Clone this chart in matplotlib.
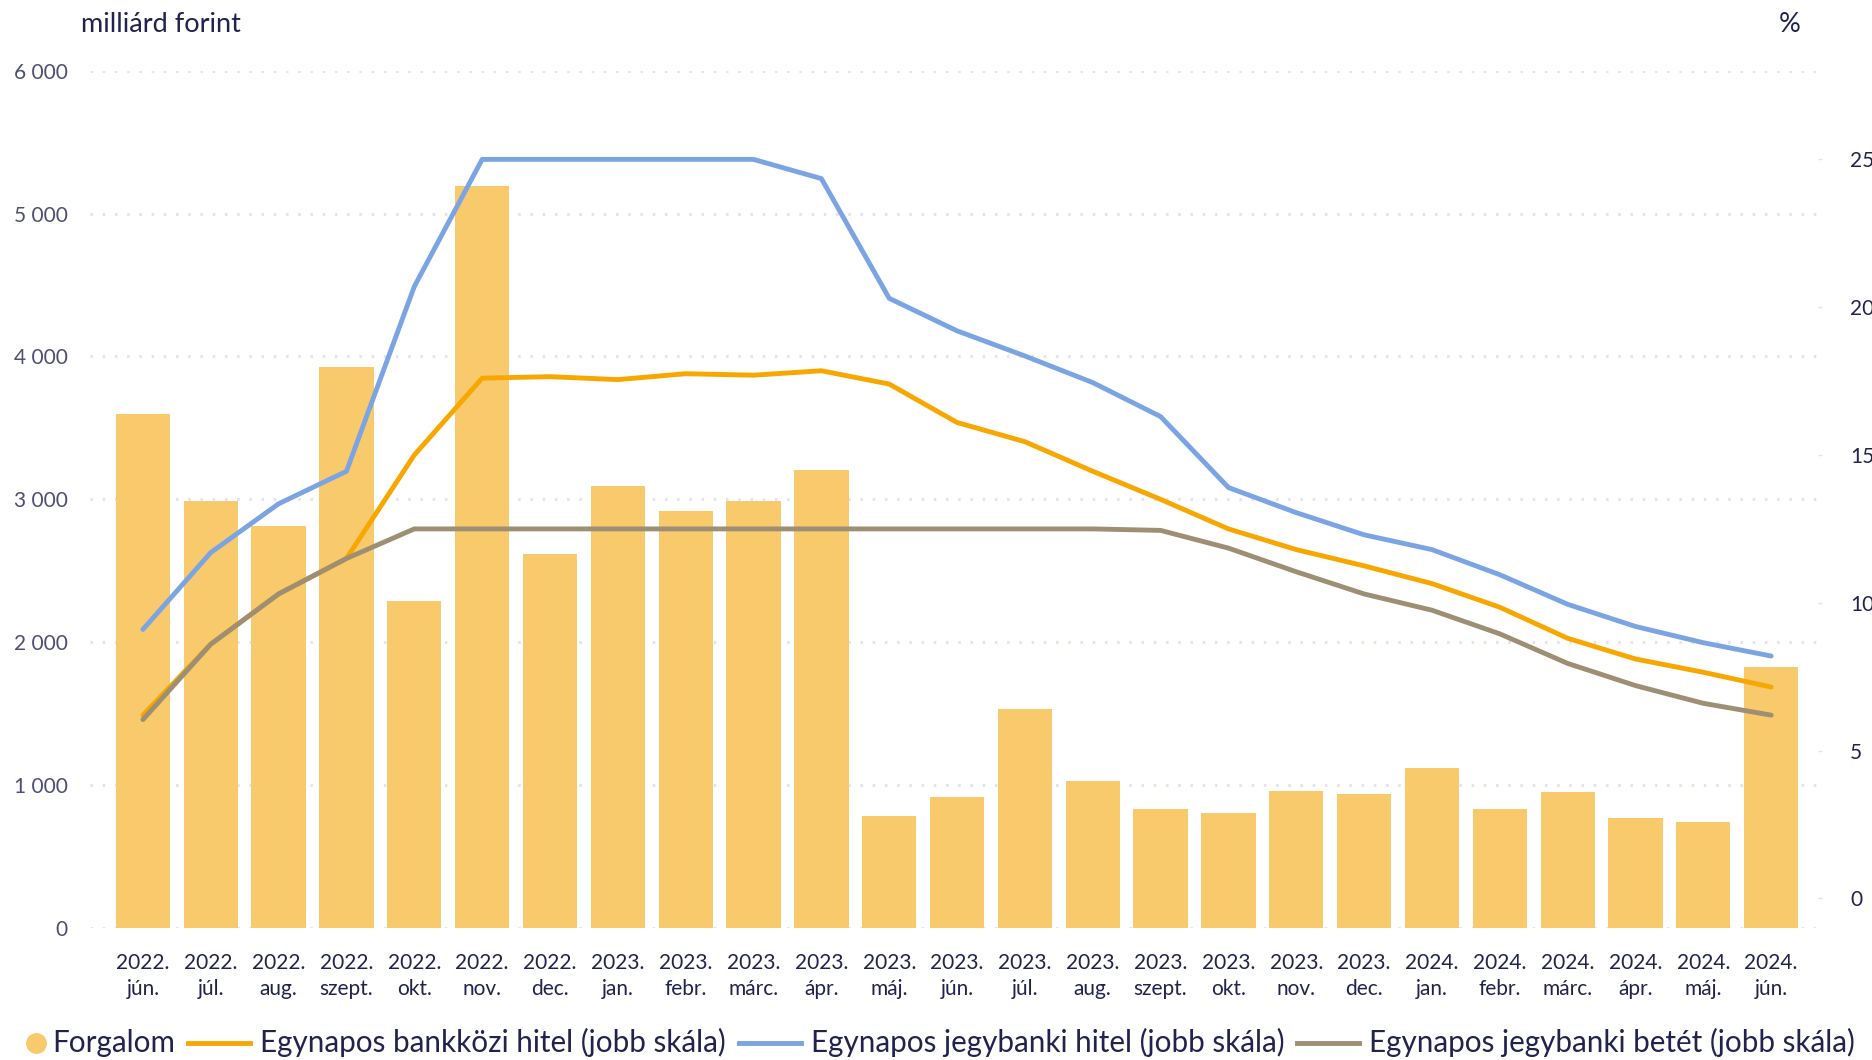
import matplotlib
matplotlib.use("Agg")
import matplotlib.pyplot as plt
from matplotlib.lines import Line2D
import numpy as np

plt.rcParams['font.family'] = ['Lato', 'DejaVu Sans']

years = ["2022.", "2022.", "2022.", "2022.", "2022.", "2022.", "2022.",
         "2023.", "2023.", "2023.", "2023.", "2023.", "2023.", "2023.", "2023.",
         "2023.", "2023.", "2023.", "2023.",
         "2024.", "2024.", "2024.", "2024.", "2024.", "2024."]
months = ["jún.", "júl.", "aug.", "szept.", "okt.", "nov.", "dec.",
          "jan.", "febr.", "márc.", "ápr.", "máj.", "jún.", "júl.", "aug.",
          "szept.", "okt.", "nov.", "dec.",
          "jan.", "febr.", "márc.", "ápr.", "máj.", "jún."]

forgalom = [3600, 2990, 2810, 3925, 2290, 5190, 2620, 3090, 2920, 2990, 3205,
            787, 920, 1530, 1030, 830, 805, 960, 935, 1120, 830, 955, 770, 745, 1830]

bankkozi_hitel = [6.2, 8.6, 10.3, 11.5, 15.0, 17.6, 17.65, 17.55, 17.75, 17.7, 17.85,
                  17.4, 16.1, 15.45, 14.45, 13.5, 12.5, 11.8, 11.25, 10.65, 9.85,
                  8.8, 8.1, 7.65, 7.15]
jegybanki_hitel = [9.1, 11.7, 13.35, 14.45, 20.7, 25.0, 25.0, 25.0, 25.0, 25.0, 24.35,
                   20.3, 19.2, 18.35, 17.45, 16.3, 13.9, 13.05, 12.3, 11.8, 10.95,
                   9.95, 9.2, 8.65, 8.2]
jegybanki_betet = [6.05, 8.6, 10.3, 11.5, 12.5, 12.5, 12.5, 12.5, 12.5, 12.5, 12.5,
                   12.5, 12.5, 12.5, 12.5, 12.45, 11.85, 11.05, 10.3, 9.75, 8.95,
                   7.95, 7.2, 6.6, 6.2]

left_ticks = [0, 1000, 2000, 3000, 4000, 5000, 6000]
left_ticklabels = ["0", "1 000", "2 000", "3 000", "4 000", "5 000", "6 000"]
right_ticks = [0, 5, 10, 15, 20, 25]

legend_labels = ["Forgalom", "Egynapos bankközi hitel (jobb skála)",
                 "Egynapos jegybanki hitel (jobb skála)",
                 "Egynapos jegybanki betét (jobb skála)"]

BAR = "#F9CA6B"
ORANGE = "#F7A700"
BLUE = "#7BA4E3"
GRAY = "#9E8E74"
NAVY = "#22224E"
LIGHTNAVY = "#4E4E72"
GRID = "#E2E2F2"

W, H = 1872, 1060
fig = plt.figure(figsize=(W / 100, H / 100), dpi=100)
ax = fig.add_axes([90 / W, 1 - 928 / H, (1818 - 90) / W, (928 - 70.7) / H])
ax2 = ax.twinx()

x = np.arange(len(forgalom))
ax.bar(x, forgalom, width=0.8, color=BAR, zorder=2)
ax.set_ylim(0, 6000)
ax.set_xlim(-0.78, 24.69)
ax.set_yticks(left_ticks)
ax.set_yticklabels(left_ticklabels)
ax.yaxis.grid(True, color=GRID, linewidth=2.2, linestyle=(0, (0.8, 3.2)), zorder=0)
ax.set_axisbelow(True)
ax.tick_params(axis='y', length=0, pad=16, labelsize=15, labelcolor=LIGHTNAVY)
ax.set_xticks(x)
ax.set_xticklabels([f"{y}\n{m}" for y, m in zip(years, months)], linespacing=1.4)
ax.tick_params(axis='x', length=0, pad=18, labelsize=15, labelcolor=NAVY)
for s in ax.spines.values():
    s.set_visible(False)

lw = 3.5
ax2.plot(x, jegybanki_betet, color=GRAY, lw=lw, solid_capstyle='round', solid_joinstyle='round', zorder=3)
ax2.plot(x, bankkozi_hitel, color=ORANGE, lw=lw, solid_capstyle='round', solid_joinstyle='round', zorder=2)
ax2.plot(x, jegybanki_hitel, color=BLUE, lw=lw, solid_capstyle='round', solid_joinstyle='round', zorder=4)
ax2.set_ylim(-1, 28)
ax2.set_yticks(right_ticks)
ax2.tick_params(axis='y', length=3, width=1, color=GRID, pad=20, labelsize=15, labelcolor=NAVY)
for s in ax2.spines.values():
    s.set_visible(False)

fig.text(81 / W, 1 - 24 / H, "milliárd forint", fontsize=19.5, color=NAVY, ha='left', va='center')
fig.text(1790 / W, 1 - 24 / H, "%", fontsize=19.5, color=NAVY, ha='center', va='center')

# manual legend, laid out left to right in pixel units
renderer = fig.canvas.get_renderer()
line_y = 1 - 1043 / H
base_y = 1 - 1052 / H
leg_colors = [BAR, ORANGE, BLUE, GRAY]
cur = 36.0
for i, (lab, col) in enumerate(zip(legend_labels, leg_colors)):
    if i == 0:
        fig.add_artist(Line2D([cur / W], [line_y], marker='o', markersize=14, color=col,
                              linestyle='none', transform=fig.transFigure))
        cur += 16
    else:
        fig.add_artist(Line2D([cur / W, (cur + 62) / W], [line_y, line_y], color=col, lw=lw,
                              transform=fig.transFigure))
        cur += 62 + 10
    t = fig.text(cur / W, base_y, lab, fontsize=21.3, color=NAVY, ha='left', va='baseline')
    bb = t.get_window_extent(renderer)
    cur = bb.x1 + 13

fig.savefig("out.png", dpi=100)
